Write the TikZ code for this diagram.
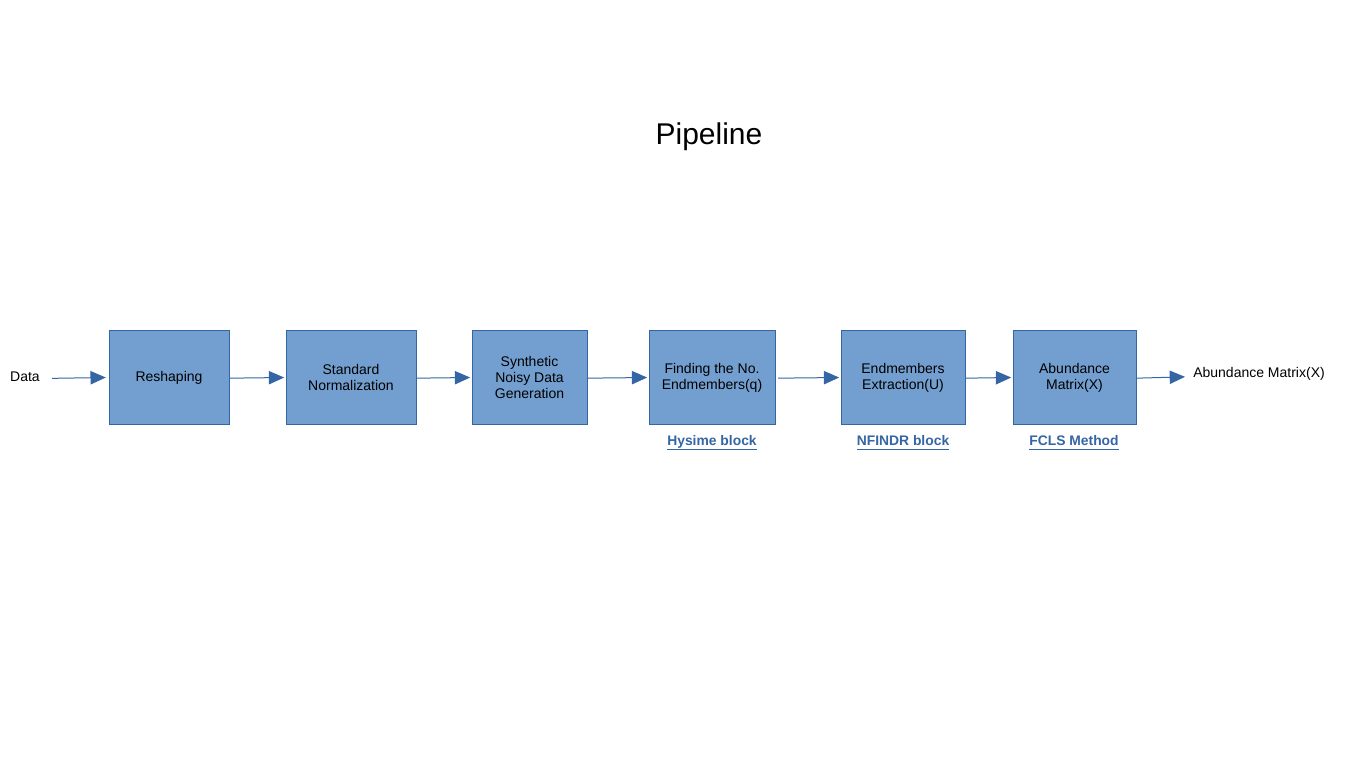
\documentclass[tikz,border=0pt]{standalone}
\usepackage{fontspec}
\setmainfont{Liberation Sans}
\usetikzlibrary{arrows.meta}
\definecolor{boxfill}{HTML}{729FCF}
\definecolor{boxline}{HTML}{3465A4}
\definecolor{arrowc}{HTML}{3465A4}
\newcommand{\ulbl}[1]{\underline{\smash{#1}\vphantom{\smash{x}}\rule[-1.5pt]{0pt}{0pt}}}
\tikzset{
  blk/.style={draw=boxline, fill=boxfill, line width=0.75pt, inner sep=0pt, align=center, font=\fontsize{10.5}{12}\selectfont, text=black},
  conn/.style={draw=arrowc, line width=0.75pt, -{Triangle[length=11.5pt,width=10pt]}},
  lbl/.style={font=\bfseries\fontsize{10.4}{12}\selectfont, text=boxline},
  plain/.style={font=\fontsize{10.5}{12}\selectfont, inner sep=0pt}
}
\begin{document}
\begin{tikzpicture}[x=0.75pt,y=-0.75pt]
\useasboundingbox (0,0) rectangle (1366,768);
\node[font=\fontsize{22.5}{26}\selectfont] (title) at (709,137) {Pipeline};
\node[plain] (data) at (25,377) {Data};
\node[blk, minimum width=90pt, minimum height=70pt] (b1) at (169,377.5) {Reshaping};
\node[blk, minimum width=97.5pt, minimum height=70pt] (b2) at (351,377.5) {Standard\\Normalization};
\node[blk, minimum width=86.25pt, minimum height=70pt] (b3) at (529.5,377.5) {Synthetic\\Noisy Data\\Generation};
\node[blk, minimum width=94.5pt, minimum height=70pt] (b4) at (712,377.5) {Finding the No.\\Endmembers(q)};
\node[blk, minimum width=93pt, minimum height=70pt] (b5) at (903,377.5) {Endmembers\\Extraction(U)};
\node[blk, minimum width=92.25pt, minimum height=70pt] (b6) at (1074.5,377.5) {Abundance\\Matrix(X)};
\node[plain, anchor=west] (out) at (1193,373.5) {Abundance Matrix(X)};
\node[lbl, anchor=base] (l4) at (712,445) {\ulbl{Hysime block}};
\node[lbl, anchor=base] (l5) at (903,445) {\ulbl{NFINDR block}};
\node[lbl, anchor=base] (l6) at (1074,445) {\ulbl{FCLS Method}};
\draw[conn] ([xshift=9pt,yshift=-1pt]data.east) -- ([xshift=-2pt]b1.west);
\draw[conn] ([yshift=-0.5pt]b1.east) -- ([xshift=-1pt]b2.west);
\draw[conn] ([yshift=-0.5pt]b2.east) -- ([xshift=-1pt]b3.west);
\draw[conn] ([yshift=-0.5pt]b3.east) -- ([xshift=-1pt]b4.west);
\draw[conn] ([xshift=2pt,yshift=-0.5pt]b4.east) -- ([xshift=-1pt]b5.west);
\draw[conn] ([yshift=-0.5pt]b5.east) -- ([xshift=-1pt]b6.west);
\draw[conn] ([yshift=-0.5pt]b6.east) -- ([xshift=-6pt,yshift=-2.5pt]out.west);
\end{tikzpicture}
\end{document}
